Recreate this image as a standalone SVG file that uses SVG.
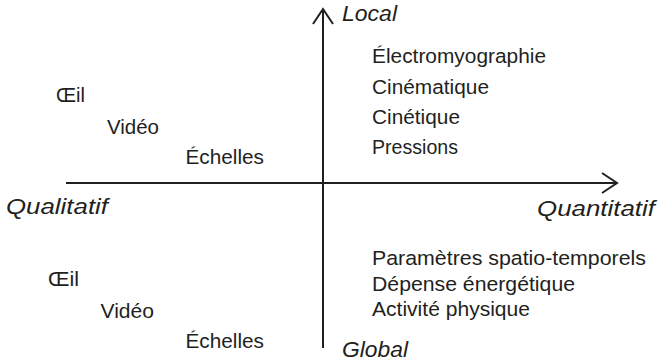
<svg xmlns="http://www.w3.org/2000/svg" width="658" height="363" viewBox="0 0 658 363">
<style>
text{font-family:"Liberation Sans",Arial,Helvetica,sans-serif;font-size:20.5px;fill:#231f20}
.it{font-style:italic;font-size:22.5px}
.ax{stroke:#231f20;stroke-width:2;fill:none}
</style>
<rect width="658" height="363" fill="#fff"/>
<g id="axes">
<path class="ax" d="M66,183H617"/>
<path class="ax" d="M602,173L617,183L602,193"/>
<path class="ax" d="M323,348V9"/>
<path class="ax" d="M313,24L323,9L333,24"/>
</g>
<g id="axis-labels">
<text class="it" x="342" y="21" textLength="55" lengthAdjust="spacingAndGlyphs">Local</text>
<text class="it" x="342" y="357" textLength="66" lengthAdjust="spacingAndGlyphs">Global</text>
<text class="it" x="6" y="214" textLength="102" lengthAdjust="spacingAndGlyphs">Qualitatif</text>
<text class="it" x="537" y="216" textLength="118" lengthAdjust="spacingAndGlyphs">Quantitatif</text>
</g>
<g id="quadrant-top-left">
<text x="56" y="101.5" textLength="29" lengthAdjust="spacingAndGlyphs">Œil</text>
<text x="107" y="134" textLength="52" lengthAdjust="spacingAndGlyphs">Vidéo</text>
<text x="185.5" y="164" textLength="78.5" lengthAdjust="spacingAndGlyphs">Échelles</text>
</g>
<g id="quadrant-top-right">
<text x="372" y="63" textLength="174" lengthAdjust="spacingAndGlyphs">Électromyographie</text>
<text x="372" y="93.5" textLength="117" lengthAdjust="spacingAndGlyphs">Cinématique</text>
<text x="372" y="123.5" textLength="88" lengthAdjust="spacingAndGlyphs">Cinétique</text>
<text x="372" y="153.5" textLength="86" lengthAdjust="spacingAndGlyphs">Pressions</text>
</g>
<g id="quadrant-bottom-left">
<text x="48" y="286" textLength="31" lengthAdjust="spacingAndGlyphs">Œil</text>
<text x="100.5" y="318" textLength="53.5" lengthAdjust="spacingAndGlyphs">Vidéo</text>
<text x="185.5" y="348" textLength="78.5" lengthAdjust="spacingAndGlyphs">Échelles</text>
</g>
<g id="quadrant-bottom-right">
<text x="372" y="265" textLength="274" lengthAdjust="spacingAndGlyphs">Paramètres spatio-temporels</text>
<text x="372" y="290.5" textLength="203" lengthAdjust="spacingAndGlyphs">Dépense énergétique</text>
<text x="372" y="316" textLength="158" lengthAdjust="spacingAndGlyphs">Activité physique</text>
</g>
</svg>
